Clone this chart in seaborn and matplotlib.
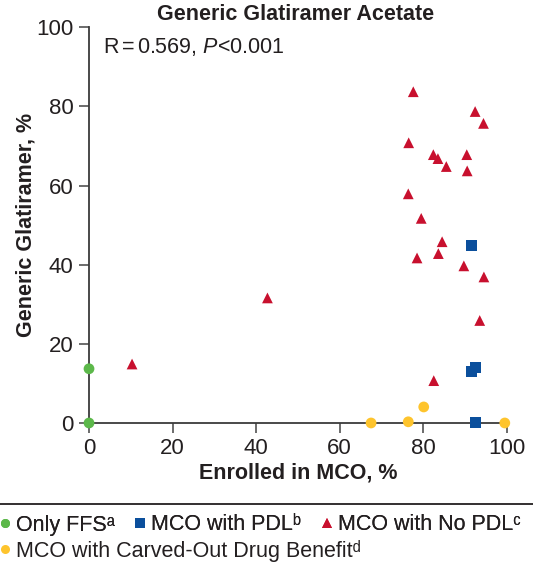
import pandas as pd
import seaborn as sns
import matplotlib.pyplot as plt
from matplotlib.lines import Line2D

# Data (x = enrolled in MCO %, y = generic glatiramer %)
ffs_x = [0, 0]
ffs_y = [0, 13.7]

pdl_x = [91.6, 92.5, 91.6, 92.5]
pdl_y = [44.9, 14.0, 13.0, 0.1]

nopdl_x = [77.6, 92.4, 94.4, 76.5, 82.4, 83.5, 90.4, 85.5, 90.5, 76.4,
           79.5, 84.5, 83.6, 78.5, 89.7, 94.5, 93.5, 82.5, 42.7, 10.3]
nopdl_y = [83.7, 78.7, 75.7, 70.8, 67.8, 66.8, 67.8, 64.8, 63.7, 57.9,
           51.7, 45.8, 42.8, 41.7, 39.7, 36.9, 25.9, 10.7, 31.6, 14.9]

carved_x = [80.1, 76.4, 99.5, 67.5]
carved_y = [4.05, 0.3, 0.0, 0.0]

groups = ["Only FFS", "MCO with PDL", "MCO with No PDL", "MCO with Carved-Out Drug Benefit"]
notes = ["ᵃ", "ᵇ", "ᶜ", "ᵈ"]
colors = {"Only FFS": "#5cb84a", "MCO with PDL": "#0b4f9c",
          "MCO with No PDL": "#c8102e", "MCO with Carved-Out Drug Benefit": "#fec42d"}
markers = {"Only FFS": "o", "MCO with PDL": "s",
           "MCO with No PDL": "^", "MCO with Carved-Out Drug Benefit": "o"}

df = pd.concat([
    pd.DataFrame({"x": ffs_x, "y": ffs_y, "group": groups[0]}),
    pd.DataFrame({"x": pdl_x, "y": pdl_y, "group": groups[1]}),
    pd.DataFrame({"x": nopdl_x, "y": nopdl_y, "group": groups[2]}),
    pd.DataFrame({"x": carved_x, "y": carved_y, "group": groups[3]}),
], ignore_index=True)

sns.set_style("ticks")
plt.rcParams["font.family"] = ["Liberation Sans", "DejaVu Sans"]
plt.rcParams["mathtext.fontset"] = "custom"
plt.rcParams["mathtext.rm"] = "Liberation Sans"
plt.rcParams["mathtext.it"] = "Liberation Sans:italic"
txt = "#231f20"

fig = plt.figure(figsize=(5.33, 5.67), dpi=100)
ax = fig.add_axes([0.167, 0.254, 0.784, 0.698])

sns.scatterplot(data=df, x="x", y="y", hue="group", style="group",
                palette=colors, markers=markers, hue_order=groups,
                style_order=groups, s=60, linewidth=0, legend=False,
                clip_on=False, zorder=3, ax=ax)

ax.set_xlim(0, 100)
ax.set_ylim(0, 100)
ax.set_xticks([0, 20, 40, 60, 80, 100])
ax.set_yticks([0, 20, 40, 60, 80, 100])
sns.despine(ax=ax)
for sp in ax.spines.values():
    sp.set_color("#3a3a3a")
    sp.set_linewidth(1.3)
ax.tick_params(direction="out", length=7, width=1.3, color="#606060",
               labelsize=16, labelcolor=txt, pad=4)

ax.set_xlabel("Enrolled in MCO, %", fontsize=15.5, fontweight="bold", color=txt, labelpad=2)
ax.set_ylabel("Generic Glatiramer, %", fontsize=15.5, fontweight="bold", color=txt)
ax.yaxis.set_label_coords(-0.125, 0.50)

fig.text(0.555, 0.975, "Generic Glatiramer Acetate", ha="center", va="center",
         fontsize=15.5, fontweight="bold", color=txt)
ax.text(0.034, 0.949, "R$\\,$=$\\,$0.569, $\\mathit{P}$<0.001", transform=ax.transAxes,
        ha="left", va="center", fontsize=15.5, color=txt)

# separator line above the legend
fig.add_artist(Line2D([0, 1], [1 - 504 / 567, 1 - 504 / 567], color="#231f20", linewidth=1.3))

def handle(g, ms):
    return Line2D([], [], marker=markers[g], color=colors[g], linestyle="none",
                  markersize=ms, markeredgewidth=0)

labels = [g + n for g, n in zip(groups, notes)]
leg1 = fig.legend([handle(groups[0], 6.5), handle(groups[1], 6.5), handle(groups[2], 6.5)],
                  labels[:3], ncol=3, loc="center left", bbox_to_anchor=(0.0, 1 - 525 / 567),
                  frameon=False, fontsize=15.5, handlelength=0.45, handletextpad=0.3,
                  columnspacing=0.95, borderaxespad=0, borderpad=0, labelcolor=txt)
fig.add_artist(leg1)
fig.legend([handle(groups[3], 6.5)], labels[3:], loc="center left",
           bbox_to_anchor=(0.0, 1 - 551 / 567), frameon=False, fontsize=15.5,
           handlelength=0.45, handletextpad=0.3, borderaxespad=0, borderpad=0,
           labelcolor=txt)

fig.savefig("out.png", dpi=100)
